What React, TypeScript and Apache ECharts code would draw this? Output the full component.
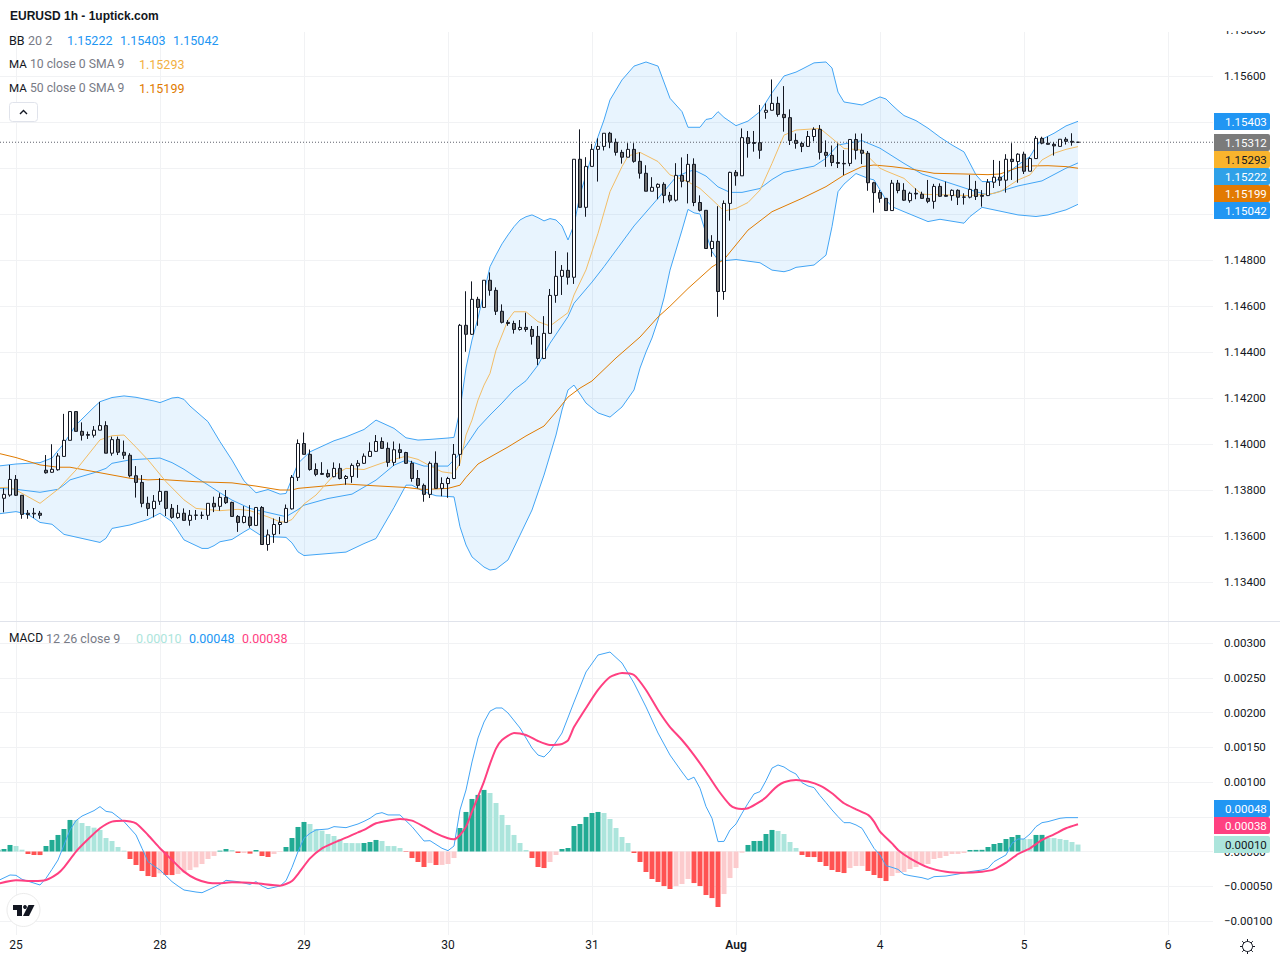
import React, { useEffect, useRef } from "react";
import * as echarts from "echarts";

const dayTickIndex = [3, 27, 51, 75, 99, 123, 147, 171, 195];
const dayTickLabels = ["25", "28", "29", "30", "31", "Aug", "4", "5", "6"];
const barIndexMin = 1 / 3;
const barIndexMax = 202.5;

const opens = [
1.13764,1.13764,1.13778,1.13846,1.13777,1.13699,1.13696,1.13699,1.13886,1.13877,
1.13888,1.13946,1.14016,1.14141,1.14055,1.14041,1.14038,1.14060,1.14080,1.13960,
1.14020,1.13964,1.13951,1.13862,1.13833,1.13742,1.13719,1.13751,1.13794,1.13720,
1.13680,1.13699,1.13668,1.13691,1.13690,1.13690,1.13742,1.13729,1.13768,1.13746,
1.13685,1.13659,1.13683,1.13646,1.13724,1.13563,1.13607,1.13650,1.13659,1.13718,
1.13855,1.14002,1.13955,1.13889,1.13872,1.13872,1.13858,1.13894,1.13850,1.13859,
1.13905,1.13916,1.13946,1.13968,1.14011,1.13981,1.13920,1.13975,1.13963,1.13916,
1.13850,1.13820,1.13781,1.13916,1.13807,1.13828,1.13850,1.13955,1.14516,1.14477,
1.14629,1.14594,1.14712,1.14668,1.14577,1.14529,1.14524,1.14498,1.14507,1.14498,
1.14468,1.14372,1.14481,1.14646,1.14729,1.14755,1.14725,1.15238,1.15029,1.15207,
1.15281,1.15294,1.15351,1.15312,1.15268,1.15247,1.15281,1.15229,1.15177,1.15099,
1.15116,1.15129,1.15081,1.15060,1.15168,1.15142,1.15216,1.15050,1.15016,1.14850,
1.14881,1.14663,1.15046,1.15181,1.15166,1.15332,1.15311,1.15310,1.15442,1.15451,
1.15481,1.15433,1.15419,1.15320,1.15307,1.15294,1.15337,1.15368,1.15268,1.15255,
1.15224,1.15220,1.15220,1.15324,1.15277,1.15264,1.15136,1.15093,1.15068,1.15015,
1.15134,1.15103,1.15058,1.15090,1.15086,1.15068,1.15055,1.15120,1.15081,1.15080,
1.15103,1.15074,1.15073,1.15107,1.15081,1.15080,1.15138,1.15160,1.15147,1.15238,
1.15228,1.15260,1.15186,1.15241,1.15329,1.15308,1.15303,1.15294,1.15325,1.15316,1.15312];

const closes = [
1.13696,1.13781,1.13846,1.13777,1.13694,1.13693,1.13699,1.13690,1.13875,1.13890,
1.13948,1.14016,1.14141,1.14055,1.14038,1.14038,1.14060,1.14080,1.13960,1.14019,
1.13964,1.13951,1.13862,1.13833,1.13742,1.13720,1.13751,1.13794,1.13720,1.13681,
1.13699,1.13668,1.13690,1.13690,1.13690,1.13742,1.13727,1.13768,1.13745,1.13685,
1.13659,1.13685,1.13646,1.13724,1.13563,1.13605,1.13650,1.13659,1.13720,1.13855,
1.14002,1.13955,1.13889,1.13868,1.13868,1.13858,1.13894,1.13850,1.13859,1.13907,
1.13916,1.13947,1.13968,1.14011,1.13981,1.13920,1.13975,1.13963,1.13916,1.13850,
1.13820,1.13781,1.13916,1.13807,1.13828,1.13850,1.13955,1.14516,1.14477,1.14629,
1.14594,1.14712,1.14668,1.14577,1.14529,1.14524,1.14498,1.14507,1.14498,1.14468,
1.14372,1.14481,1.14646,1.14729,1.14755,1.14725,1.15238,1.15029,1.15207,1.15281,
1.15294,1.15351,1.15312,1.15268,1.15247,1.15281,1.15229,1.15177,1.15099,1.15116,
1.15129,1.15081,1.15060,1.15168,1.15142,1.15216,1.15050,1.15016,1.14850,1.14881,
1.14663,1.15046,1.15181,1.15166,1.15332,1.15307,1.15307,1.15277,1.15451,1.15481,
1.15433,1.15419,1.15320,1.15307,1.15294,1.15337,1.15368,1.15268,1.15255,1.15224,
1.15220,1.15218,1.15324,1.15277,1.15264,1.15136,1.15093,1.15068,1.15015,1.15134,
1.15102,1.15060,1.15090,1.15087,1.15068,1.15055,1.15120,1.15077,1.15077,1.15103,
1.15073,1.15073,1.15107,1.15076,1.15077,1.15138,1.15160,1.15147,1.15238,1.15228,
1.15260,1.15186,1.15241,1.15329,1.15308,1.15303,1.15296,1.15325,1.15316,1.15312,1.15312];

const highs = [
1.13800,1.13807,1.13909,1.13865,1.13777,1.13713,1.13722,1.13709,1.13952,1.13999,
1.13960,1.14131,1.14141,1.14141,1.14094,1.14054,1.14078,1.14183,1.14099,1.14032,
1.14032,1.14015,1.13960,1.13904,1.13865,1.13771,1.13778,1.13851,1.13794,1.13739,
1.13735,1.13720,1.13713,1.13713,1.13706,1.13742,1.13771,1.13786,1.13800,1.13749,
1.13691,1.13730,1.13734,1.13724,1.13730,1.13628,1.13676,1.13683,1.13737,1.13865,
1.14020,1.14050,1.13976,1.13916,1.13921,1.13889,1.13920,1.13916,1.13865,1.13916,
1.13930,1.13959,1.14007,1.14039,1.14029,1.14007,1.14011,1.14002,1.13966,1.13927,
1.13887,1.13828,1.13924,1.13968,1.13855,1.13857,1.14000,1.14522,1.14664,1.14707,
1.14640,1.14712,1.14746,1.14681,1.14607,1.14539,1.14536,1.14539,1.14571,1.14513,
1.14513,1.14556,1.14674,1.14839,1.14778,1.14833,1.15238,1.15368,1.15247,1.15305,
1.15329,1.15351,1.15357,1.15328,1.15279,1.15308,1.15308,1.15268,1.15212,1.15160,
1.15133,1.15138,1.15096,1.15221,1.15246,1.15261,1.15242,1.15081,1.15016,1.14908,
1.15034,1.15059,1.15184,1.15191,1.15372,1.15361,1.15361,1.15474,1.15481,1.15585,
1.15510,1.15556,1.15455,1.15350,1.15314,1.15361,1.15377,1.15387,1.15320,1.15298,
1.15307,1.15278,1.15326,1.15350,1.15350,1.15274,1.15140,1.15104,1.15068,1.15148,
1.15148,1.15134,1.15097,1.15112,1.15097,1.15148,1.15131,1.15133,1.15141,1.15107,
1.15107,1.15090,1.15170,1.15144,1.15104,1.15152,1.15235,1.15231,1.15260,1.15308,
1.15264,1.15271,1.15247,1.15339,1.15336,1.15336,1.15312,1.15325,1.15334,1.15351,1.15313];

const lows = [
1.13684,1.13703,1.13771,1.13774,1.13675,1.13675,1.13678,1.13675,1.13871,1.13875,
1.13884,1.13946,1.14016,1.14055,1.14015,1.14022,1.14028,1.14060,1.13960,1.13949,
1.13952,1.13935,1.13855,1.13767,1.13725,1.13687,1.13681,1.13735,1.13687,1.13675,
1.13675,1.13667,1.13645,1.13670,1.13674,1.13670,1.13704,1.13710,1.13739,1.13684,
1.13618,1.13655,1.13636,1.13646,1.13563,1.13536,1.13570,1.13608,1.13659,1.13715,
1.13839,1.13955,1.13884,1.13860,1.13866,1.13853,1.13855,1.13846,1.13823,1.13831,
1.13853,1.13913,1.13945,1.13966,1.13979,1.13901,1.13905,1.13937,1.13913,1.13836,
1.13807,1.13749,1.13765,1.13807,1.13773,1.13766,1.13847,1.13905,1.14401,1.14474,
1.14514,1.14594,1.14645,1.14561,1.14524,1.14514,1.14480,1.14493,1.14488,1.14432,
1.14343,1.14369,1.14481,1.14614,1.14648,1.14693,1.14696,1.15029,1.14988,1.15207,
1.15141,1.15276,1.15286,1.15254,1.15219,1.15247,1.15223,1.15154,1.15099,1.15099,
1.15064,1.15047,1.15051,1.15054,1.15116,1.15046,1.15034,1.15011,1.14850,1.14814,
1.14553,1.14627,1.14971,1.15123,1.15166,1.15245,1.15271,1.15240,1.15414,1.15451,
1.15423,1.15358,1.15300,1.15284,1.15269,1.15292,1.15316,1.15237,1.15205,1.15208,
1.15200,1.15169,1.15208,1.15237,1.15217,1.15101,1.15006,1.15049,1.15015,1.15015,
1.15090,1.15057,1.15049,1.15064,1.15067,1.15047,1.15023,1.15075,1.15075,1.15058,
1.15039,1.15041,1.15068,1.15061,1.15032,1.15078,1.15113,1.15122,1.15093,1.15148,
1.15136,1.15174,1.15186,1.15241,1.15303,1.15302,1.15254,1.15293,1.15302,1.15297,1.15310];

const lastPrice = 1.15312;

const bbUpper = [[0,1.13904],[3,1.13913],[7,1.13919],[9,1.13939],[11,1.14003],[13,1.14083],[16,1.1416],[17,1.14184],[19,1.14202],[21,1.14209],[23,1.14203],[26,1.14187],[27,1.1418],[29,1.142],[30,1.14203],[31,1.14194],[32,1.14165],[35,1.14097],[37,1.1401],[39,1.1393],[41,1.1384],[43,1.13788],[45,1.13802],[47,1.13782],[48,1.13785],[50,1.13916],[52,1.13966],[56,1.14014],[58,1.14031],[61,1.14063],[63,1.14104],[66,1.14068],[68,1.14027],[70,1.14017],[72,1.1402],[75,1.14026],[76,1.14029],[77,1.14148],[78,1.1433],[79,1.14452],[80,1.14548],[82,1.14771],[83,1.14822],[84,1.1487],[85,1.14909],[86,1.14945],[87,1.14974],[88,1.14988],[89,1.14996],[90,1.14984],[91,1.1497],[92,1.1498],[93,1.14974],[94,1.14948],[95,1.14887],[96,1.14952],[97,1.15083],[98,1.1517],[99,1.15257],[100,1.15336],[101,1.15409],[102,1.15496],[104,1.15583],[106,1.15643],[108,1.15661],[110,1.15643],[112,1.15503],[114,1.15445],[115,1.15377],[117,1.15377],[118,1.15411],[119,1.15416],[120,1.15445],[121,1.1542],[123,1.15384],[125,1.15404],[127,1.15445],[129,1.15527],[131,1.156],[133,1.15617],[134,1.1563],[136,1.15657],[138,1.15661],[139,1.15635],[140,1.1553],[141,1.15487],[144,1.15474],[147,1.15509],[148,1.155],[149,1.15474],[150,1.1545],[151,1.15428],[153,1.15406],[155,1.15373],[157,1.15334],[159,1.153],[161,1.1527],[163,1.1517],[164,1.15141],[166,1.15141],[167,1.15155],[170,1.15213],[172,1.1525],[173,1.15293],[174,1.15325],[176,1.15351],[178,1.15383],[180,1.15403]];

const bbMiddle = [[0,1.13807],[3,1.13803],[7,1.1379],[10,1.13803],[11,1.13822],[12,1.13844],[16,1.13875],[18,1.13894],[19,1.13916],[22,1.13931],[27,1.13939],[29,1.13919],[31,1.1389],[33,1.13855],[35,1.13822],[37,1.13788],[39,1.13756],[42,1.1372],[48,1.13684],[50,1.13715],[51,1.13734],[55,1.13763],[59,1.13782],[63,1.13843],[66,1.13908],[68,1.1393],[71,1.13904],[75,1.13904],[77,1.13959],[78,1.13992],[80,1.1407],[82,1.14126],[84,1.14178],[86,1.14235],[88,1.14275],[90,1.14343],[92,1.14438],[95,1.14554],[96,1.14612],[99,1.14704],[101,1.14771],[106,1.14948],[110,1.15068],[113,1.15161],[115,1.15184],[116,1.15191],[118,1.15165],[120,1.15118],[122,1.15094],[124,1.15094],[127,1.15111],[129,1.1515],[131,1.15181],[134,1.15198],[136,1.15208],[138,1.15242],[140,1.153],[143,1.15314],[144,1.15319],[147,1.15286],[151,1.1522],[154,1.15174],[163,1.15097],[165,1.15083],[170,1.15122],[174,1.15144],[178,1.15199],[180,1.15222]];

const bbLower = [[0,1.13696],[3,1.13706],[5,1.13694],[7,1.13659],[9,1.13651],[11,1.13607],[17,1.13572],[18,1.1359],[19,1.13633],[22,1.13648],[25,1.13672],[27,1.13699],[29,1.13662],[31,1.13583],[34,1.13546],[35,1.13546],[36,1.13558],[37,1.13575],[39,1.13585],[41,1.13618],[42,1.13633],[44,1.13599],[48,1.13594],[49,1.1357],[50,1.13531],[51,1.13515],[58,1.1353],[61,1.13567],[63,1.13589],[66,1.13724],[68,1.13821],[69,1.13821],[71,1.13792],[73,1.13775],[76,1.1377],[77,1.1364],[78,1.13561],[79,1.13509],[81,1.13465],[82,1.13452],[83,1.13456],[85,1.13496],[87,1.13604],[89,1.13713],[91,1.13865],[93,1.14039],[94,1.14148],[95,1.14235],[96,1.14256],[98,1.14178],[100,1.14135],[102,1.14117],[104,1.14161],[106,1.14235],[107,1.1433],[108,1.144],[109,1.14461],[110,1.14539],[111,1.14635],[112,1.14756],[114,1.1493],[115,1.1502],[116,1.15005],[117,1.15],[118,1.14915],[119,1.14836],[120,1.148],[121,1.14797],[123,1.14802],[127,1.14788],[129,1.14756],[131,1.14749],[132,1.14756],[133,1.14768],[136,1.14778],[138,1.14821],[139,1.14945],[140,1.15097],[141,1.1513],[143,1.15176],[145,1.15155],[146,1.15148],[147,1.15105],[148,1.15061],[149,1.15032],[151,1.1501],[155,1.14967],[157,1.14977],[161,1.1496],[162,1.14989],[164,1.15029],[170,1.14996],[173,1.14989],[175,1.14996],[178,1.15018],[180,1.15042]];

const ma10 = [[0,1.1381],[2,1.13812],[3,1.138],[7,1.13742],[10,1.13803],[13,1.13887],[17,1.14018],[19,1.14036],[21,1.14039],[23,1.13986],[25,1.13931],[28,1.13836],[31,1.13757],[33,1.1372],[37,1.1371],[40,1.13716],[42,1.1371],[45,1.13683],[47,1.13662],[48,1.1366],[49,1.13672],[51,1.13739],[53,1.13778],[56,1.13865],[58,1.13894],[61,1.13889],[63,1.13908],[65,1.13926],[68,1.13947],[70,1.13933],[72,1.13905],[74,1.13879],[76,1.13872],[77,1.13916],[78,1.14039],[79,1.14104],[80,1.14191],[81,1.14256],[82,1.14307],[83,1.14408],[85,1.14539],[86,1.14575],[88,1.14575],[90,1.14532],[92,1.14513],[95,1.14571],[96,1.14648],[98,1.14757],[100,1.14916],[102,1.15097],[104,1.15206],[105,1.15252],[107,1.15268],[110,1.15228],[112,1.1517],[113,1.15161],[115,1.1514],[117,1.15111],[119,1.15063],[121,1.15013],[123,1.15024],[125,1.1505],[127,1.15104],[129,1.1522],[131,1.15343],[133,1.15365],[137,1.15372],[139,1.15329],[141,1.15285],[144,1.15278],[145,1.1525],[147,1.15199],[148,1.15187],[151,1.15155],[153,1.15107],[154,1.15086],[162,1.1508],[166,1.1509],[167,1.15097],[170,1.15148],[172,1.1517],[174,1.15235],[176,1.15264],[178,1.15281],[180,1.15293]];

const ma50 = [[0,1.1396],[3,1.13941],[7,1.13909],[10,1.13899],[12,1.13899],[17,1.13875],[22,1.13851],[25,1.13844],[27,1.13846],[33,1.13836],[39,1.13831],[43,1.13817],[47,1.138],[49,1.138],[50,1.13807],[58,1.13826],[63,1.13818],[68,1.13811],[71,1.13802],[75,1.13807],[77,1.13821],[78,1.13855],[80,1.13913],[82,1.13943],[85,1.13987],[88,1.14035],[91,1.14078],[93,1.14139],[95,1.14204],[97,1.14243],[99,1.14274],[103,1.14374],[107,1.14465],[110,1.14552],[112,1.14599],[115,1.14676],[119,1.1477],[121,1.14802],[125,1.1493],[129,1.1501],[134,1.15068],[138,1.15119],[141,1.15169],[144,1.15206],[146,1.15213],[149,1.15206],[152,1.15196],[156,1.15177],[161,1.15174],[165,1.15171],[167,1.15174],[170,1.15202],[172,1.15209],[175,1.1521],[178,1.15206],[180,1.15199]];

// MACD pane values below are in units of 0.00001
const histogramE5 = [
2.6,3.6,9.4,7.9,2.6,-3.6,-5.0,-5.1,7.9,16.6,23.8,32.4,45.4,45.3,41.0,36.7,34.3,31.0,19.4,15.1,
6.5,1.2,-10.8,-19.4,-28.1,-35.3,-36.7,-31.4,-33.8,-33.9,-32.4,-30,-26.6,-22.8,-18,-10.8,-6.5,1.2,3.6,2.2,
-2.2,-2.1,-3.1,2.2,-6.5,-7.9,-3.6,-0.7,6.5,19.4,35.3,42.5,39.6,32.4,30,25.2,22.3,18,12.2,12.1,
12.0,12.2,13.7,16.6,15.1,7.9,7.8,5,-0.7,-9.4,-15.1,-22.3,-16.6,-19.4,-19.3,-18,-9.4,33.8,56.9,75.6,
81.4,88.6,84.2,69.8,52.6,38.2,23.8,12.2,2.2,-9.4,-22.3,-23.8,-15.1,-5,3.6,5,36.7,39.6,49.7,55.4,
56.9,55.4,46.8,33.8,20.9,12.2,-2.2,-15.1,-29.5,-39.6,-43.9,-49.7,-54,-49.7,-46.8,-39.6,-45.4,-49.7,-62.6,-67,
-79.9,-61.2,-38.2,-23.8,-1.7,9.4,15.1,15.2,25.2,31,29.5,25.2,13.7,5,-5,-7.9,-8.0,-15.1,-20.9,-26.6,
-29.5,-31,-23.8,-20.9,-20.8,-28.1,-33.8,-38.2,-42.5,-35.3,-31,-29.5,-25.2,-22.3,-19.4,-18,-10.8,-9.4,-6.5,-3.6,
-3.5,-2.2,2.2,2.3,2.4,6.5,10.8,12.2,18,20.9,23.8,18,17.9,23.8,23.9,19.4,19.3,18,16.6,13.7,10];

const macdE5 = [[0,-42],[2,-33.8],[3,-34.3],[4,-40],[7,-48.2],[8,-38.6],[9,-25.7],[10,-12.2],[11,9.4],[12,31],[13,44.4],[14,51],[16,58.8],[17,64.6],[18,57.8],[19,56.4],[21,43],[23,23.8],[24,4.6],[25,-14.6],[26,-20.9],[27,-26.6],[29,-43.4],[30,-49.7],[31,-55.4],[33,-58.3],[34,-59.3],[35,-55.4],[37,-47.3],[38,-41.5],[40,-43.4],[42,-47.3],[43,-43.4],[44,-49.7],[45,-53.5],[47,-49.7],[48,-42],[49,-22.8],[50,-0.2],[51,19],[52,26.2],[53,31],[55,32.4],[56,35.8],[58,34.3],[60,39.6],[61,43.4],[62,47.8],[63,54],[64,55.9],[65,52.6],[67,52.6],[69,35.8],[71,15.1],[72,15.6],[74,4.6],[75,1.2],[76,7.9],[77,59.8],[78,88.5],[79,128.8],[80,163.3],[81,186.3],[82,202],[83,206.5],[84,206.5],[85,199.3],[87,177.7],[89,148.9],[90,138.8],[91,136],[92,144.6],[94,170.5],[96,215],[98,258.3],[100,282.7],[102,287],[104,271.2],[106,242.4],[108,208],[110,170.5],[112,138.8],[114,114.4],[115,102.9],[116,107],[117,91],[118,64.6],[119,47.8],[120,14.2],[121,14.6],[122,31],[123,39.6],[124,55],[125,69.4],[126,82.8],[127,86.2],[128,102],[129,120],[130,124.5],[131,121.6],[132,115.8],[133,111.5],[134,99],[135,94.3],[136,91.9],[137,80.4],[138,70.3],[139,59.8],[140,50.2],[141,41.5],[142,41.5],[143,38.2],[144,33.4],[145,19],[146,4.6],[147,-5],[148,-20.4],[149,-22.8],[150,-25.7],[151,-32.9],[152,-34.8],[154,-37.7],[155,-40.1],[156,-36.2],[158,-35.3],[160,-32.4],[162,-29],[164,-26.6],[165,-24.2],[166,-14.6],[168,-5],[169,11.8],[170,18],[171,18],[172,25.2],[173,35.8],[174,41.5],[175,43],[177,47.8],[178,48.7],[180,48.7]];

const signalE5 = [[0,-46.3],[3,-41.5],[6,-42.5],[8,-41],[10,-31.4],[11,-22.8],[13,-0.2],[15,17.5],[17,33.4],[19,43],[21,44.4],[23,40.6],[25,23.8],[27,4.6],[29,-12.2],[31,-29],[33,-39.6],[35,-44.9],[37,-45.8],[39,-44.4],[43,-45.8],[47,-49.2],[48,-46.8],[49,-42.5],[50,-32.4],[52,-9.8],[54,4.6],[56,12.7],[58,19.9],[60,27.6],[61,31],[63,40.6],[65,44.4],[67,46.8],[69,44.4],[71,35.8],[73,26.2],[75,19],[76,17.5],[77,23.8],[78,35.8],[79,57.4],[80,79],[81,100.6],[82,126],[83,148],[84,160.4],[86,170.5],[88,167.6],[90,159],[92,153.2],[94,154.7],[95,160],[96,179],[98,206.5],[100,232.4],[102,251],[104,256.8],[106,254],[108,232.4],[110,203.6],[112,179],[114,160.4],[116,138.8],[118,114.4],[120,88.5],[122,67],[123,62.2],[124,61.2],[125,62.2],[127,71.8],[128,78],[129,87.1],[130,94.8],[131,99.6],[133,103],[135,100.6],[137,94.8],[139,83.8],[141,69.4],[143,60.7],[145,52.6],[146,43],[147,28.7],[149,11.7],[150,2.2],[152,-9.8],[155,-22.8],[158,-29],[161,-30.5],[164,-29],[166,-25.7],[168,-16.1],[170,-3.6],[172,4.6],[174,16.6],[176,24.7],[178,33.4],[180,39.1]];

const priceBadges = [
  { text: "1.15403", bg: "#2196f3", fg: "#ffffff", top: 113 },
  { text: "1.15312", bg: "#7b7b7b", fg: "#ffffff", top: 134 },
  { text: "1.15293", bg: "#f9b42d", fg: "#131722", top: 151 },
  { text: "1.15222", bg: "#2fa1e8", fg: "#ffffff", top: 168 },
  { text: "1.15199", bg: "#e27a03", fg: "#ffffff", top: 185 },
  { text: "1.15042", bg: "#2196f3", fg: "#ffffff", top: 202 },
  { text: "0.00048", bg: "#2196f3", fg: "#ffffff", top: 800 },
  { text: "0.00038", bg: "#ff4081", fg: "#ffffff", top: 817 },
  { text: "0.00010", bg: "#ace5dc", fg: "#131722", top: 836 },
];

const legendTexts = [
  { t: "BB", x: 9, y: 40, c: "#131722", s: 12.5 },
  { t: "20 2", x: 28, y: 40, c: "#787b86", s: 12.5 },
  { t: "1.15222", x: 67, y: 40, c: "#2196f3", s: 12.5 },
  { t: "1.15403", x: 120, y: 40, c: "#2196f3", s: 12.5 },
  { t: "1.15042", x: 173, y: 40, c: "#2196f3", s: 12.5 },
  { t: "MA", x: 9, y: 64, c: "#131722", s: 11.6 },
  { t: "10 close 0 SMA 9", x: 30, y: 64, c: "#787b86", s: 12.2 },
  { t: "1.15293", x: 139, y: 64, c: "#f2b03f", s: 12.5 },
  { t: "MA", x: 9, y: 88, c: "#131722", s: 11.6 },
  { t: "50 close 0 SMA 9", x: 30, y: 88, c: "#787b86", s: 12.2 },
  { t: "1.15199", x: 139, y: 88, c: "#e07b00", s: 12.5 },
  { t: "MACD", x: 9, y: 638, c: "#131722", s: 12 },
  { t: "12 26 close 9", x: 46, y: 638, c: "#787b86", s: 12.5 },
  { t: "0.00010", x: 136, y: 638, c: "#ace5dc", s: 12.5 },
  { t: "0.00048", x: 189, y: 638, c: "#2196f3", s: 12.5 },
  { t: "0.00038", x: 242, y: 638, c: "#ff4081", s: 12.5 },
];

const UI_FONT = "Roboto, 'Noto Sans', sans-serif";
const GRID_LINE = "#f1f2f4";

export default function App() {
  const ref = useRef<HTMLDivElement>(null);

  useEffect(() => {
    document.body.style.margin = "0";
    const chart = echarts.init(ref.current as HTMLDivElement, undefined, { renderer: "svg" });

    const candleData = opens.map((o, i) => [i, o, closes[i], lows[i], highs[i]]);
    const histData = histogramE5.map((v, i) => {
      const prev = i > 0 ? histogramE5[i - 1] : 0;
      const color = v >= 0 ? (v >= prev ? "#22ab94" : "#ace5dc") : v < prev ? "#ff5252" : "#fccbcd";
      return { value: [i, v / 1e5], itemStyle: { color } };
    });
    const scaled = (rows: number[][]) => rows.map(([k, v]) => [k, v / 1e5]);

    const priceHidden = [1.154, 1.152, 1.15, 1.132];
    const graphicElements: any[] = [
      { type: "rect", z: 10, shape: { x: 1214, y: 0, width: 66, height: 31 }, style: { fill: "#ffffff" } },
      { type: "line", z: 9, shape: { x1: 0, y1: 621.5, x2: 1280, y2: 621.5 }, style: { stroke: "#e0e3eb", lineWidth: 1 } },
      { type: "text", z: 30, x: 10, y: 16, style: { text: "EURUSD 1h - 1uptick.com", font: "bold 12px 'Liberation Sans', Arial, sans-serif", fill: "#131722", verticalAlign: "middle" } },
      { type: "rect", z: 30, shape: { x: 9.5, y: 102.5, width: 28, height: 19, r: 3 }, style: { fill: "#ffffff", stroke: "#e0e3eb", lineWidth: 1 } },
      { type: "polyline", z: 31, shape: { points: [[20, 114], [23.5, 110.5], [27, 114]] }, style: { stroke: "#131722", lineWidth: 1.4, fill: "none" } },
      { type: "circle", z: 30, shape: { cx: 23.5, cy: 910, r: 16.5 }, style: { fill: "#ffffff", stroke: "#ebebeb", lineWidth: 1 } },
      { type: "polygon", z: 31, shape: { points: [[13, 905], [22, 905], [22, 916], [17, 916], [17, 910], [13, 910]] }, style: { fill: "#131722" } },
      { type: "circle", z: 31, shape: { cx: 25, cy: 907, r: 1.9 }, style: { fill: "#131722" } },
      { type: "polygon", z: 31, shape: { points: [[28.5, 905], [34.5, 905], [29, 916], [23, 916]] }, style: { fill: "#131722" } },
      { type: "circle", z: 31, shape: { cx: 1247.5, cy: 946.5, r: 5 }, style: { fill: "#ffffff", stroke: "#131722", lineWidth: 1 } },
    ];
    [[0, -7.5, 0, -5], [0, 5, 0, 7.5], [-7.5, 0, -5, 0], [5, 0, 7.5, 0], [-5.3, -5.3, -3.6, -3.6], [3.6, 3.6, 5.3, 5.3], [-5.3, 5.3, -3.6, 3.6], [3.6, -3.6, 5.3, -5.3]].forEach(([a, b, c, d]) => {
      graphicElements.push({ type: "line", z: 31, shape: { x1: 1247.5 + a, y1: 946.5 + b, x2: 1247.5 + c, y2: 946.5 + d }, style: { stroke: "#131722", lineWidth: 1 } });
    });
    priceBadges.forEach((b) => {
      graphicElements.push({ type: "rect", z: 20, shape: { x: 1214, y: b.top, width: 56, height: 17, r: [0, 2, 2, 0] }, style: { fill: b.bg } });
      graphicElements.push({ type: "text", z: 21, x: 1225, y: b.top + 9, style: { text: b.text, font: `11.5px ${UI_FONT}`, fill: b.fg, verticalAlign: "middle" } });
    });
    legendTexts.forEach((l) => {
      graphicElements.push({ type: "text", z: 30, x: l.x, y: l.y, style: { text: l.t, font: `${l.s}px ${UI_FONT}`, fill: l.c, verticalAlign: "middle" } });
    });

    const line = (name: string, rows: number[][], color: string, width: number, x: number, z: number, extra: any = {}) => ({
      name,
      type: "line",
      xAxisIndex: x,
      yAxisIndex: x,
      data: rows,
      showSymbol: false,
      symbol: "none",
      z,
      clip: true,
      lineStyle: { color, width },
      ...extra,
    });

    const hiddenX = (gridIndex: number) => ({ type: "value", gridIndex, min: barIndexMin, max: barIndexMax, show: false });

    chart.setOption({
      animation: false,
      backgroundColor: "#ffffff",
      graphic: { elements: graphicElements },
      grid: [
        { left: 0, width: 1213, top: 30, height: 598 },
        { left: 0, width: 1213, top: 643, height: 278 },
        { left: 0, width: 1213, top: 32, height: 903 },
      ],
      xAxis: [
        hiddenX(0),
        hiddenX(1),
        {
          type: "value",
          gridIndex: 2,
          min: barIndexMin,
          max: barIndexMax,
          axisLine: { show: false },
          axisTick: { show: false, customValues: dayTickIndex },
          splitLine: { show: true, showMinLine: true, showMaxLine: true, lineStyle: { color: GRID_LINE, width: 1 } },
          axisLabel: {
            show: true,
            margin: 4,
            customValues: dayTickIndex,
            fontFamily: UI_FONT,
            fontSize: 12,
            color: "#131722",
            formatter: (v: number) => {
              const lab = dayTickLabels[dayTickIndex.indexOf(v)];
              return lab === "Aug" ? "{b|Aug}" : lab;
            },
            rich: { b: { fontFamily: UI_FONT, fontSize: 12, fontWeight: 600, color: "#131722" } },
          },
        },
      ],
      yAxis: [
        {
          type: "value",
          gridIndex: 0,
          position: "right",
          min: 1.132,
          max: 1.158,
          interval: 0.002,
          axisLine: { show: false },
          axisTick: { show: false },
          splitLine: { show: true, showMinLine: false, showMaxLine: false, lineStyle: { color: GRID_LINE, width: 1 } },
          axisLabel: {
            margin: 11,
            align: "left",
            fontFamily: UI_FONT,
            fontSize: 11.5,
            color: "#131722",
            formatter: (v: number) => (priceHidden.some((h) => Math.abs(h - v) < 1e-7) ? "" : v.toFixed(5)),
          },
        },
        {
          type: "value",
          gridIndex: 1,
          position: "right",
          min: -0.001,
          max: 0.003,
          interval: 0.0005,
          axisLine: { show: false },
          axisTick: { show: false },
          splitLine: { show: true, lineStyle: { color: GRID_LINE, width: 1 } },
          axisLabel: {
            margin: 11,
            align: "left",
            fontFamily: UI_FONT,
            fontSize: 11.5,
            color: "#131722",
            formatter: (v: number) => {
              if (Math.abs(v - 0.0005) < 1e-7) return "";
              return v < -1e-9 ? "\u2212" + Math.abs(v).toFixed(5) : Math.abs(v).toFixed(5);
            },
          },
        },
        { type: "value", gridIndex: 2, show: false, min: 0, max: 1 },
      ],
      series: [
        {
          type: "custom",
          name: "BB band",
          xAxisIndex: 0,
          yAxisIndex: 0,
          silent: true,
          z: 1,
          clip: true,
          data: [[bbUpper[1][0], bbUpper[1][1]]],
          encode: { x: 0, y: 1 },
          renderItem: (_p: any, api: any) => ({
            type: "polygon",
            shape: { points: [...bbUpper, ...[...bbLower].reverse()].map((pt) => api.coord(pt)) },
            style: { fill: "rgba(33,150,243,0.1)", stroke: "none" },
          }),
        },
        line("BB upper", bbUpper, "#42a5f5", 1, 0, 2),
        line("BB middle", bbMiddle, "#42a5f5", 1, 0, 2),
        line("BB lower", bbLower, "#42a5f5", 1, 0, 2),
        line("MA 50", ma50, "#e07b00", 1, 0, 2),
        line("MA 10", ma10, "#f2bd66", 1, 0, 2),
        line("Last price", [[barIndexMin, lastPrice], [barIndexMax, lastPrice]], "#5d606b", 1, 0, 2, {
          lineStyle: { color: "#5d606b", width: 1, type: [1, 2] },
        }),
        {
          type: "candlestick",
          name: "EURUSD",
          xAxisIndex: 0,
          yAxisIndex: 0,
          z: 3,
          barWidth: 4,
          clip: true,
          data: candleData,
          encode: { x: 0, y: [1, 2, 3, 4] },
          itemStyle: { color: "#ffffff", color0: "#6e6e6e", borderColor: "#131722", borderColor0: "#131722", borderWidth: 1 },
        },
        {
          type: "bar",
          name: "Histogram",
          xAxisIndex: 1,
          yAxisIndex: 1,
          barWidth: 5,
          z: 2,
          data: histData,
        },
        line("MACD", scaled(macdE5), "#42a5f5", 1, 1, 3),
        line("Signal", scaled(signalE5), "#ff4081", 2, 1, 4, { smooth: 0.2 }),
      ],
    });

    return () => chart.dispose();
  }, []);

  return <div ref={ref} style={{ width: 1280, height: 960, background: "#ffffff" }} />;
}
